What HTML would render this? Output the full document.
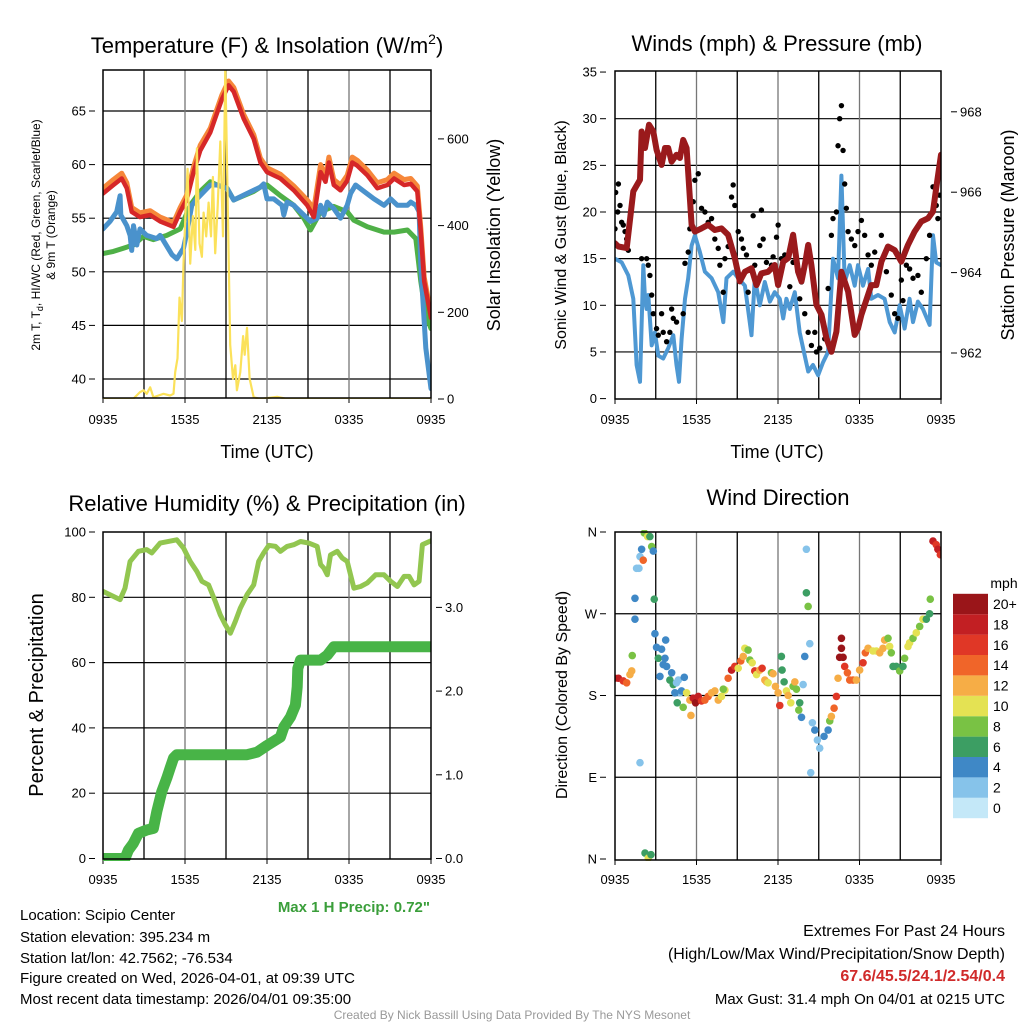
<!DOCTYPE html>
<html><head><meta charset="utf-8"><style>
html,body{margin:0;padding:0;background:#fff;}
svg{display:block;font-family:"Liberation Sans",sans-serif;}
</style></head><body>
<svg id="chart" width="1024" height="1024" viewBox="0 0 1024 1024" xmlns="http://www.w3.org/2000/svg">
<defs>
<clipPath id="c1"><rect x="103" y="70" width="328" height="329"/></clipPath>
<clipPath id="c2"><rect x="615" y="71" width="326" height="328"/></clipPath>
<clipPath id="c3"><rect x="103" y="530" width="328" height="331"/></clipPath>
<clipPath id="c4"><rect x="615" y="530" width="326" height="331"/></clipPath>
</defs>
<g id="p1"></g>
<g id="p2"></g>
<g id="p3"></g>
<g id="p4"></g>
<g font-size="22" text-anchor="middle" fill="#000">
<text x="267" y="53">Temperature (F) &amp; Insolation (W/m<tspan font-size="14" dy="-9">2</tspan><tspan dy="9">)</tspan></text>
<text x="777" y="51">Winds (mph) &amp; Pressure (mb)</text>
<text x="267" y="511">Relative Humidity (%) &amp; Precipitation (in)</text>
<text x="778" y="505">Wind Direction</text>
</g>
<g font-size="18" text-anchor="middle">
<text x="267" y="458">Time (UTC)</text>
<text x="777" y="458">Time (UTC)</text>
<text transform="translate(500,235) rotate(-90)">Solar Insolation (Yellow)</text>
<text transform="translate(1014,235) rotate(-90)">Station Pressure (Maroon)</text>
<text transform="translate(43,695) rotate(-90)" font-size="20">Percent &amp; Precipitation</text>
</g>
<g font-size="16" text-anchor="middle">
<text transform="translate(566,235) rotate(-90)">Sonic Wind &amp; Gust (Blue, Black)</text>
<text transform="translate(567,695) rotate(-90)">Direction (Colored By Speed)</text>
</g>
<g font-size="12" text-anchor="middle">
<text transform="translate(40,235) rotate(-90)">2m T, T<tspan font-size="9" dy="3">d</tspan><tspan dy="-3">, HI/WC (Red, Green, Scarlet/Blue)</tspan></text>
<text transform="translate(55,235) rotate(-90)">&amp; 9m T (Orange)</text>
</g>
<text x="430" y="912" font-size="15" font-weight="bold" fill="#3a9e3a" text-anchor="end">Max 1 H Precip: 0.72"</text>
<g font-size="15" fill="#000">
<text x="20" y="920">Location: Scipio Center</text>
<text x="20" y="942">Station elevation: 395.234 m</text>
<text x="20" y="963">Station lat/lon: 42.7562; -76.534</text>
<text x="20" y="983">Figure created on Wed, 2026-04-01, at 09:39 UTC</text>
<text x="20" y="1004">Most recent data timestamp: 2026/04/01 09:35:00</text>
</g>
<g font-size="16" text-anchor="end">
<text x="1005" y="936">Extremes For Past 24 Hours</text>
<text x="1005" y="959">(High/Low/Max Wind/Precipitation/Snow Depth)</text>
<text x="1005" y="981" font-weight="bold" fill="#d02a2a">67.6/45.5/24.1/2.54/0.4</text>
<text x="1005" y="1004" font-size="15">Max Gust: 31.4 mph On 04/01 at 0215 UTC</text>
</g>
<text x="512" y="1019" font-size="12" fill="#999" text-anchor="middle">Created By Nick Bassill Using Data Provided By The NYS Mesonet</text>
</svg>
<script>
// ---- Temperature panel data (hours since 0935 UTC) ----
const tempT=[0,.76,1.37,1.74,2.1,2.71,3.45,4.18,5.16,5.65,6.14,6.63,7.11,7.85,8.34,8.7,9.19,9.56,10.29,11.03,11.52,12.0,12.98,13.96,14.94,15.43,15.92,16.28,16.53,16.89,17.38,17.87,18.24,18.61,19.34,20.07,20.81,21.3,22.03,22.52,23.0,23.25,23.5,24];
const tempV=[57.3,58.1,58.7,57.8,55.6,55.1,55.3,54.7,54.2,55.6,56.8,59.3,61.3,63.0,64.8,66.1,67.4,66.8,64.3,62.4,60.2,59.3,58.7,57.6,56.2,55.1,59.3,58.4,60.2,58.1,57.6,58.5,60.2,59.9,59.0,57.8,58.1,58.7,58.1,58.2,57.5,53.7,49.1,45.7];
const temp9V=[57.8,58.6,59.2,58.3,56.0,55.5,55.7,55.1,54.6,56.0,57.2,59.8,61.8,63.4,65.2,66.5,67.8,67.2,64.7,62.8,60.6,59.7,59.1,58.0,56.7,55.9,60.0,58.9,60.7,58.6,58.1,59.0,60.7,60.4,59.5,58.3,58.6,59.2,58.6,58.7,58.0,54.1,49.5,46.1];
const dewT=[0,.76,1.49,2.23,2.96,3.69,4.67,5.65,6.38,7.11,7.85,8.34,9.07,9.56,10.29,11.03,11.52,12.0,12.98,13.96,14.69,15.18,15.92,16.89,17.87,18.36,19.34,20.56,21.3,22.27,22.89,23.25,23.62,24];
const dewV=[51.7,51.9,52.2,52.5,53.3,53.0,53.4,54.0,56.2,57.5,58.4,58.1,57.8,56.7,57.1,57.5,57.9,58.1,57.1,56.2,55.0,53.9,55.6,56.1,55.6,54.8,54.2,53.7,53.7,53.9,53.1,49.1,46.0,44.7];
const wcT=[0,.51,1.0,1.25,1.30,1.74,1.98,2.1,2.23,2.47,2.71,3.2,3.94,4.18,4.43,5.04,5.4,5.89,6.14,6.5,6.87,7.85,8.34,9.07,9.56,10.54,11.52,11.76,12.0,12.49,13.1,13.23,13.47,13.96,14.45,15.18,15.67,15.92,16.16,16.41,16.89,17.38,17.87,18.12,18.48,19.1,19.83,20.56,21.05,21.54,22.27,22.52,22.89,23.13,23.25,23.62,24];
const wcV=[54.0,54.7,55.6,57.1,55.3,54.3,53.4,52.0,54.3,52.5,54.0,53.4,53.1,53.4,52.9,51.6,51.2,52.2,53.7,56.2,56.8,58.1,58.1,57.8,56.7,57.3,57.9,58.2,56.8,56.8,56.2,55.3,56.5,56.2,55.6,54.7,55.0,56.2,55.3,56.5,55.9,55.0,56.2,57.3,58.1,57.5,56.8,56.2,56.8,56.2,56.2,56.5,56.2,55.6,50.6,42.9,39.1];
const solT=[0,2.2,2.71,2.96,3.2,3.45,3.69,4.06,4.43,4.91,5.16,5.28,5.45,5.6,5.77,5.89,6.09,6.19,6.38,6.58,6.75,6.87,7.06,7.24,7.36,7.55,7.73,7.9,8.04,8.21,8.39,8.58,8.78,8.95,9.07,9.31,9.51,9.68,9.8,10.05,10.25,10.37,10.54,10.73,11.03,11.52,12.74,13.47,24];
const solV=[0,0,16,20,12,27,4,8,12,8,12,62,94,234,180,312,469,531,312,422,344,578,359,328,430,375,453,375,512,336,445,594,375,766,547,125,47,78,20,62,145,102,164,47,4,0,5,0,0];
const tempTicks=[40,45,50,55,60,65];
const solTicks=[0,200,400,600];
const timeLabels=["0935","1535","2135","0335","0935"];
// ---- Winds panel data ----
const presT=[0,.25,.86,1.35,1.84,1.96,2.21,2.5,2.82,3.06,3.43,3.68,3.92,4.17,4.53,4.78,5.02,5.27,5.64,5.88,6.37,6.86,7.35,7.84,8.33,8.82,9.19,9.56,10.05,10.42,10.78,11.27,11.76,12.01,12.38,12.75,13.11,13.48,13.73,13.97,14.22,14.46,14.83,15.2,15.56,15.93,16.3,16.67,17.16,17.65,17.89,18.14,18.87,19.24,19.61,20.1,20.59,21.08,21.57,22.06,22.55,23.04,23.41,23.65,24];
const presV=[964.73,964.65,964.61,966.02,966.31,967.51,967.1,967.68,967.51,967.05,966.68,967.1,967.1,966.76,966.93,966.85,967.3,967.1,965.19,965.02,965.1,965.19,965.06,965.1,964.94,964.36,963.78,964.02,964.11,963.69,963.98,964.02,964.19,963.69,964.27,964.36,964.94,964.02,963.78,964.19,964.69,964.19,963.2,962.95,962.37,962.03,962.53,964.02,963.53,962.45,962.61,962.95,963.69,963.69,964.27,964.65,964.56,964.27,964.69,965.02,965.27,965.35,965.52,966.1,966.93];
const windT=[0,.49,.98,1.35,1.59,1.84,2.08,2.21,2.33,2.45,2.7,2.94,3.19,3.55,3.92,4.29,4.53,4.71,4.9,5.15,5.39,5.64,5.88,6.25,6.62,7.11,7.6,7.97,8.21,8.7,9.07,9.56,10.05,10.29,10.66,11.03,11.4,11.76,12.13,12.38,12.62,12.87,13.24,13.6,13.85,14.22,14.58,14.95,15.32,15.69,16.05,16.42,16.67,16.91,17.28,17.65,17.89,18.26,18.63,18.87,19.36,19.85,20.22,20.59,20.96,21.32,21.69,21.94,22.3,22.67,23.16,23.41,23.65,24];
const windV=[15,14.6,13.2,10.7,3.6,1.8,14.3,10.7,9.6,11.1,5.7,7.1,4.6,4.3,5.4,6.8,3.6,1.8,6.4,10.7,12.9,16.4,17.5,15.7,13.6,12.9,11.4,8.2,12.9,13.6,12.9,12.1,6.8,12.9,10,12.5,10.4,11.4,10.7,8.6,10.7,9.6,11.4,7.1,5.4,2.9,3.6,2.5,3.9,5.0,15,12.9,23.9,12.5,14.3,12.1,14.3,12.1,13.9,10.7,11.1,10.7,8.2,7.1,10,7.5,10.7,8.2,10.4,9.6,7.9,17.5,14.6,14.3];
const gustT=[0,.05,.25,.2,.37,.49,.61,.74,.86,.98,1.96,2.33,2.45,2.57,2.7,2.82,3.06,3.19,3.43,3.55,3.8,4.04,4.17,4.29,4.53,5.02,5.15,5.39,5.51,5.76,5.88,6.13,6.37,6.62,6.86,7.11,7.35,7.6,7.72,7.97,8.09,8.33,8.58,8.7,8.82,9.07,9.31,9.44,9.68,9.8,10.17,10.29,10.66,10.78,10.91,11.15,11.52,11.64,11.89,12.01,12.25,12.5,12.75,12.87,13.11,13.48,13.6,13.73,13.97,14.22,14.46,14.71,14.83,15.07,15.44,15.69,15.93,16.05,16.3,16.42,16.54,16.67,16.79,16.91,17.03,17.16,17.4,17.65,17.89,18.14,18.38,18.63,18.87,19.12,19.61,19.98,20.34,20.59,20.83,21.08,21.2,21.45,21.69,21.94,22.3,22.55,22.92,23.16,23.41,23.65,23.77,23.9];
const gustV=[18.2,22.1,23,20,20.7,18.9,18.6,17.9,17.1,15.9,15,15,14.3,13.2,11.1,9.1,7.5,6.8,9.1,7.1,6.1,7.1,9.6,8.6,8.2,9.1,14.5,15.7,18.2,21.1,23.4,24.1,20.4,20,18.9,19.3,17.1,16.1,14.3,11.4,15,16.3,21.6,22.9,20.7,17.9,17.1,16.1,15.4,11.4,19.6,14.3,16.4,20.2,17.1,14.6,14.3,15.2,17.3,18.6,15,15.4,15.2,12,14.6,13.9,10.7,12.5,9.1,7.1,5.7,7.1,5,5.4,6.4,11.8,17.5,19.3,20,27.1,30,31.4,26.6,23,20.4,17.9,17.1,16.4,17.9,19.1,17.5,15.4,14.3,15.7,17.5,13.6,11.1,9.1,8.6,12.7,10.5,14.3,13.9,12.9,13.2,11.4,15,17.5,22.7,20.7,19.3,21.8];
const windTicks=[0,5,10,15,20,25,30,35];
const presTicks=[962,964,966,968];
// ---- Humidity panel data ----
const rhT=[0,.51,1.25,1.61,1.98,2.59,3.2,3.57,4.18,5.4,5.89,6.38,6.87,7.24,7.73,8.22,8.58,8.95,9.32,9.68,10.05,10.54,11.03,11.39,11.76,12.13,12.62,12.98,13.47,13.96,14.45,15.06,15.67,15.92,16.16,16.41,16.65,17.14,17.51,17.87,18.36,18.85,19.34,19.95,20.56,21.05,21.54,22.03,22.4,22.76,23.13,23.37,24];
const rhV=[81.8,80.8,79.3,82.8,91.0,94.1,94.6,93.6,96.6,97.6,95.1,91.0,87.9,84.9,83.8,78.7,74.6,71.6,69.0,72.6,76.7,80.8,83.8,91.0,93.6,95.9,95.6,94.1,95.6,96.1,97.1,96.6,95.6,90.0,88.9,86.9,93.0,94.1,92.0,91.0,82.8,83.3,84.4,86.9,86.9,84.9,83.3,86.4,86.4,83.8,84.9,96.1,97.3];
const prT=[0,1.61,1.86,2.22,2.59,3.2,3.69,3.94,4.3,4.67,4.91,5.16,5.4,7.11,10.54,11.27,12.0,12.98,13.23,13.72,14.08,14.21,14.25,14.45,15.92,16.41,16.89,24];
const prV=[0,0,.10,.18,.30,.34,.36,.56,.80,.96,1.08,1.20,1.24,1.24,1.24,1.27,1.35,1.45,1.57,1.69,1.83,2.05,2.27,2.37,2.37,2.43,2.53,2.53];
const rhTicks=[0,20,40,60,80,100];
const prTicks=["0.0","1.0","2.0","3.0"];
// ---- Wind direction data ----
const dirT=[0,.25,.61,.86,1.1,1.23,1.27,1.47,1.47,1.59,1.76,1.84,1.96,2.08,2.16,2.4,2.57,2.7,2.82,2.89,1.84,2.21,2.45,2.65,2.94,3.06,3.19,3.43,3.73,3.68,3.31,3.55,3.8,4.04,4.29,4.17,4.53,4.66,4.78,4.9,5.1,4.41,4.58,5.02,5.27,5.51,5.59,5.76,5.93,6.13,6.37,6.62,6.86,7.11,7.35,7.6,7.84,8.09,7.97,8.33,8.58,8.82,9.07,9.26,9.44,9.56,9.8,9.93,10.1,10.29,10.42,10.66,10.83,11.03,11.15,11.27,11.52,11.64,11.81,12.01,12.13,12.25,12.3,12.45,12.62,12.75,12.94,13.11,13.24,13.36,13.6,13.53,13.73,13.85,13.97,14.34,14.53,14.71,14.9,15.07,15.39,15.69,15.81,15.93,16.13,16.3,16.42,14.09,14.09,14.22,14.41,16.67,16.67,16.54,16.79,16.91,17.11,17.28,17.52,17.77,18.01,18.26,18.43,18.63,18.99,19.24,19.49,19.73,19.85,20.1,20.22,20.34,20.47,20.71,20.96,21.2,21.32,21.57,21.69,21.94,22.18,22.43,22.67,22.92,23.16,23.21,23.41,23.65,23.77,23.95];
const dirV=[199,199,196,194,203,207,224,264,287,320,320,333,341,329,359,355,355,344,339,286,106,6.6,1,4.8,248,233,221,231,241,221,201,214,212,197,192,205,194,197,183,185,200,183,172,167,183,175,158,177,172,179,174,175,179,183,185,175,179,186,187,199,208,212,210,218,223,232,230,219,216,207,203,208,210,197,195,194,205,204,190,183,169,223,208,195,185,180,172,190,195,187,172,164,156,192,223,237,150,142,131,122,135,142,152,157,166,179,199,341,293,278,95,243,232,222,222,212,205,197,197,197,208,216,227,232,229,229,227,232,241,243,234,227,212,212,207,212,221,234,238,243,249,256,264,264,270,286,350,346,341,335];
const dirSpd=[16,18,16,15,12,12,8,4,4,2,2,2,4,14,8,10,7,8,4,6,2,6,10,6,4,4,6,4,4,4,4,4,4,6,6,4,3,2,3,4,4,4,6,8,10,12,13,18,20,18,16,15,14,13,12,12,10,10,8,14,18,17,11,15,13,10,8,8,10,16,10,12,16,12,13,10,8,12,12,13,16,6,6,6,10,12,10,8,12,8,6,8,4,3,4,2,2,4,2,2,4,4,8,12,15,16,12,2,6,8,2,20,20,20,20,16,15,14,15,12,12,16,14,13,11,10,12,12,13,8,10,8,6,7,8,7,8,10,10,8,10,8,10,7,6,8,18,16,18,17];
const dirLabels=["N","E","S","W","N"];
const speedLabels=["0","2","4","6","8","10","12","14","16","18","20+"];
const speedColors=["#c4e8f8","#86c3ea","#3f88c6","#3c9e63","#79c244","#e4e253","#f6ad46","#f06529","#e03726","#c21f23","#9a1519"];

const NS="http://www.w3.org/2000/svg";
function E(parent,tag,attrs){const el=document.createElementNS(NS,tag);for(const k in attrs)el.setAttribute(k,attrs[k]);parent.appendChild(el);return el;}
function pathOf(ts,vs,sx,sy){let d="";for(let i=0;i<ts.length;i++){d+=(i?"L":"M")+sx(ts[i]).toFixed(1)+","+sy(vs[i]).toFixed(1);}return d;}

function frame(g,x0,y0,x1,y1,key){
  const r=E(g,"rect",{x:x0,y:y0,width:x1-x0,height:y1-y0,fill:"none",stroke:"#000","stroke-width":1.5});
  
  
}
function xAxis(g,x0,x1,y0,y1,ly,key){
  for(let h=3;h<24;h+=3){const x=x0+(x1-x0)*h/24;const l=E(g,"line",{x1:x,x2:x,y1:y0,y2:y1,stroke:h%6?"#000":"#777","stroke-width":1.3});
    
    }
  timeLabels.forEach((s,i)=>{const x=x0+(x1-x0)*i/4;const tk=E(g,"line",{x1:x,x2:x,y1:y1,y2:y1+5,stroke:"#000"});
    
    
    const t=E(g,"text",{x:x,y:ly,"font-size":13,"text-anchor":"middle"});t.textContent=s;
    
    });
}
function hGrid(g,x0,x1,y,key){const l=E(g,"line",{x1:x0,x2:x1,y1:y,y2:y,stroke:"#000","stroke-width":1.2});
  
  }
function yLabel(g,x,y,s,anchor,key){const t=E(g,"text",{x:x,y:y+4.5,"font-size":13,"text-anchor":anchor});t.textContent=s;
  
  
  const tk=E(g,"line",{x1:anchor==="end"?x+3:x-9,x2:anchor==="end"?x+9:x-3,y1:y,y2:y,stroke:"#000"});
  
  }

// ===== Panel 1 =====
(function(){
  const g=document.getElementById("p1");
  const X0=103,X1=431,Y0=70,Y1=398;
  const sx=h=>X0+(X1-X0)*h/24, sy=t=>379-(t-40)*10.72, ss=s=>399-s*0.4335;
  tempTicks.forEach(t=>{hGrid(g,X0,X1,sy(t),'temp');yLabel(g,86,sy(t),String(t),"end",'temp-tick-label');});
  solTicks.forEach(s=>{yLabel(g,447,ss(s),String(s),"start",'solar-tick-label');});
  xAxis(g,X0,X1,Y0,Y1,424,'temp');
  const c=E(g,"g",{"clip-path":"url(#c1)",fill:"none","stroke-linejoin":"round","stroke-linecap":"round"});
  const p1=E(c,"path",{d:pathOf(dewT,dewV,sx,sy),stroke:"#4fb047","stroke-width":5});
  
  
  const p2=E(c,"path",{d:pathOf(wcT,wcV,sx,sy),stroke:"#4a92cc","stroke-width":5});
  
  
  const p3=E(c,"path",{d:pathOf(tempT,temp9V,sx,sy),stroke:"#f6873a","stroke-width":5});
  
  
  const p4=E(c,"path",{d:pathOf(tempT,tempV,sx,sy),stroke:"#d62728","stroke-width":4.5});
  
  
  const p5=E(c,"path",{d:pathOf(solT,solV,sx,ss),stroke:"#fbe15a","stroke-width":2.2});
  
  
  frame(g,X0,Y0,X1,Y1,'temp');
})();

// ===== Panel 2 =====
(function(){
  const g=document.getElementById("p2");
  const X0=615,X1=941,Y0=71,Y1=399;
  const sx=h=>X0+(X1-X0)*h/24, sy=v=>398.6-v*9.33, sp=p=>353-(p-962)*40.2;
  windTicks.forEach(v=>{if(v>0&&v<35)hGrid(g,X0,X1,sy(v),'wind');yLabel(g,597,sy(v),String(v),"end",'wind-tick-label');});
  presTicks.forEach(p=>{yLabel(g,960,sp(p),String(p),"start",'pressure-tick-label');});
  xAxis(g,X0,X1,Y0,Y1,424,'wind');
  const c=E(g,"g",{"clip-path":"url(#c2)",fill:"none","stroke-linejoin":"round","stroke-linecap":"round"});
  const w=E(c,"path",{d:pathOf(windT,windV,sx,sy),stroke:"#4e98d3","stroke-width":4});
  
  
  for(let i=0;i<gustT.length;i++){
    const d=E(c,"circle",{cx:sx(gustT[i]),cy:sy(gustV[i]),r:2.7,fill:"#000"});
    
    
  }
  const p=E(c,"path",{d:pathOf(presT,presV,sx,sp),stroke:"#9a1a1c","stroke-width":6});
  
  
  frame(g,X0,Y0,X1,Y1,'wind');
})();

// ===== Panel 3 =====
(function(){
  const g=document.getElementById("p3");
  const X0=103,X1=431,Y0=532,Y1=859;
  const sx=h=>X0+(X1-X0)*h/24, sy=r=>858.5-r*3.265, sp=p=>858.5-p*83.7;
  rhTicks.forEach(r=>{if(r>0&&r<100)hGrid(g,X0,X1,sy(r),'rh');yLabel(g,86,sy(r),String(r),"end",'rh-tick-label');});
  prTicks.forEach(s=>{yLabel(g,445,sp(parseFloat(s)),s,"start",'precip-tick-label');});
  xAxis(g,X0,X1,Y0,Y1,884,'rh');
  const c=E(g,"g",{"clip-path":"url(#c3)",fill:"none","stroke-linejoin":"round","stroke-linecap":"round"});
  const r=E(c,"path",{d:pathOf(rhT,rhV,sx,sy),stroke:"#92c650","stroke-width":5});
  
  
  const p=E(c,"path",{d:pathOf(prT,prV,sx,sp),stroke:"#48b447","stroke-width":11});
  
  
  frame(g,X0,Y0,X1,Y1,'rh');
})();

// ===== Panel 4 =====
(function(){
  const g=document.getElementById("p4");
  const X0=615,X1=941,Y0=532,Y1=860;
  const sx=h=>X0+(X1-X0)*h/24, sy=d=>859-d/360*327;
  dirLabels.forEach((s,i)=>{const y=sy(i*90);if(i>0&&i<4)hGrid(g,X0,X1,y,'dir');yLabel(g,597,y,s,"end",'direction-tick-label');});
  xAxis(g,X0,X1,Y0,Y1,884,'dir');
  const c=E(g,"g",{"clip-path":"url(#c4)"});
  for(let i=0;i<dirT.length;i++){
    const b=Math.min(10,Math.floor(dirSpd[i]/2));
    const d=E(c,"circle",{cx:sx(dirT[i]),cy:sy(dirV[i]),r:3.8,fill:speedColors[b]});
    
    
  }
  frame(g,X0,Y0,X1,Y1,'dir');
  const mph=E(g,"text",{x:1004,y:588,"font-size":14,"text-anchor":"middle"});mph.textContent="mph";
  
  
  for(let i=0;i<speedLabels.length;i++){
    const y=808-i*20.4;
    const r=E(g,"rect",{x:953,y:y-10.2,width:35,height:20.4,fill:speedColors[i]});
    
    
    const t=E(g,"text",{x:993,y:y+5,"font-size":14});t.textContent=speedLabels[i];
    
    
  }
})();
</script>
</body></html>
